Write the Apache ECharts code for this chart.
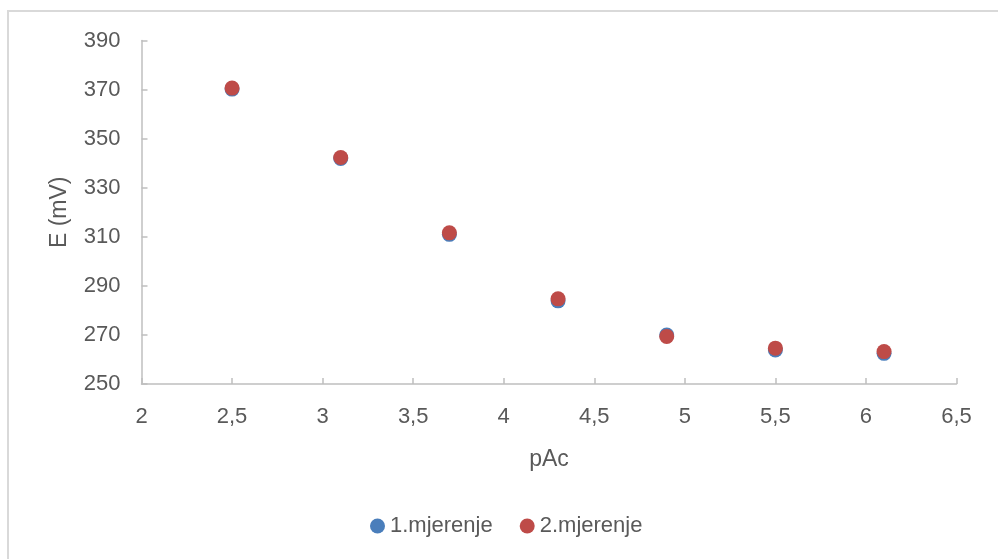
<!DOCTYPE html>
<html>
<head>
<meta charset="utf-8">
<script src="https://cdn.jsdelivr.net/npm/echarts@6/dist/echarts.min.js"></script>
<style>
html,body{margin:0;padding:0;background:#fff;}
#c{width:998px;height:559px;}
</style>
</head>
<body>
<div id="c"></div>
<script>
var pAc = [2.5, 3.1, 3.7, 4.3, 4.9, 5.5, 6.1];
var mjerenje1 = [370.2, 341.9, 311.0, 283.9, 270.0, 263.9, 262.5];
var mjerenje2 = [370.6, 342.3, 311.6, 284.7, 269.4, 264.6, 263.2];
var seriesNames = ['1.mjerenje', '2.mjerenje'];
var xTicks = {min: 2, max: 6.5, interval: 0.5};
var yTicks = {min: 250, max: 390, interval: 20};

function pairs(xs, ys) { return xs.map(function (x, i) { return [x, ys[i]]; }); }

var font = 'Liberation Sans, Open Sans, sans-serif';
var chart = echarts.init(document.getElementById('c'));
chart.setOption({
  animation: false,
  backgroundColor: '#fff',
  textStyle: {fontFamily: font},
  graphic: [{
    type: 'polyline',
    shape: {points: [[8, 600], [8, 11], [1010, 11]]},
    style: {stroke: '#d9d9d9', lineWidth: 2, fill: null},
    silent: true
  }],
  grid: {left: 141.5, right: 41.5, top: 40.5, bottom: 175, containLabel: false},
  legend: {
    bottom: 17,
    left: 365,
    itemWidth: 15,
    itemHeight: 15,
    itemGap: 27,
    icon: 'circle',
    textStyle: {color: '#595959', fontSize: 22, fontFamily: font},
    data: seriesNames
  },
  xAxis: {
    type: 'value',
    min: xTicks.min, max: xTicks.max, interval: xTicks.interval,
    name: 'pAc',
    nameLocation: 'middle',
    nameGap: 64,
    nameTextStyle: {color: '#595959', fontSize: 23, fontFamily: font},
    axisLine: {show: true, lineStyle: {color: '#bfbfbf', width: 1.5}},
    axisTick: {show: true, inside: true, length: 6, lineStyle: {color: '#bfbfbf', width: 1.5}},
    splitLine: {show: false},
    axisLabel: {color: '#595959', fontSize: 22, margin: 22, fontFamily: font,
      formatter: function (v) { return String(v).replace('.', ','); }}
  },
  yAxis: {
    type: 'value',
    min: yTicks.min, max: yTicks.max, interval: yTicks.interval,
    name: 'E (mV)',
    nameLocation: 'middle',
    nameGap: 70,
    nameTextStyle: {color: '#595959', fontSize: 23, fontFamily: font},
    axisLine: {show: true, lineStyle: {color: '#bfbfbf', width: 1.5}},
    axisTick: {show: true, inside: true, length: 6, lineStyle: {color: '#bfbfbf', width: 1.5}},
    splitLine: {show: false},
    axisLabel: {color: '#595959', fontSize: 22, margin: 21, fontFamily: font}
  },
  series: [{
    name: seriesNames[0],
    type: 'scatter',
    symbolSize: 15,
    itemStyle: {color: '#4a7ebb', opacity: 1},
    data: pairs(pAc, mjerenje1)
  }, {
    name: seriesNames[1],
    type: 'scatter',
    symbolSize: 15,
    itemStyle: {color: '#be4b48', opacity: 1},
    data: pairs(pAc, mjerenje2)
  }]
});
</script>
</body>
</html>
